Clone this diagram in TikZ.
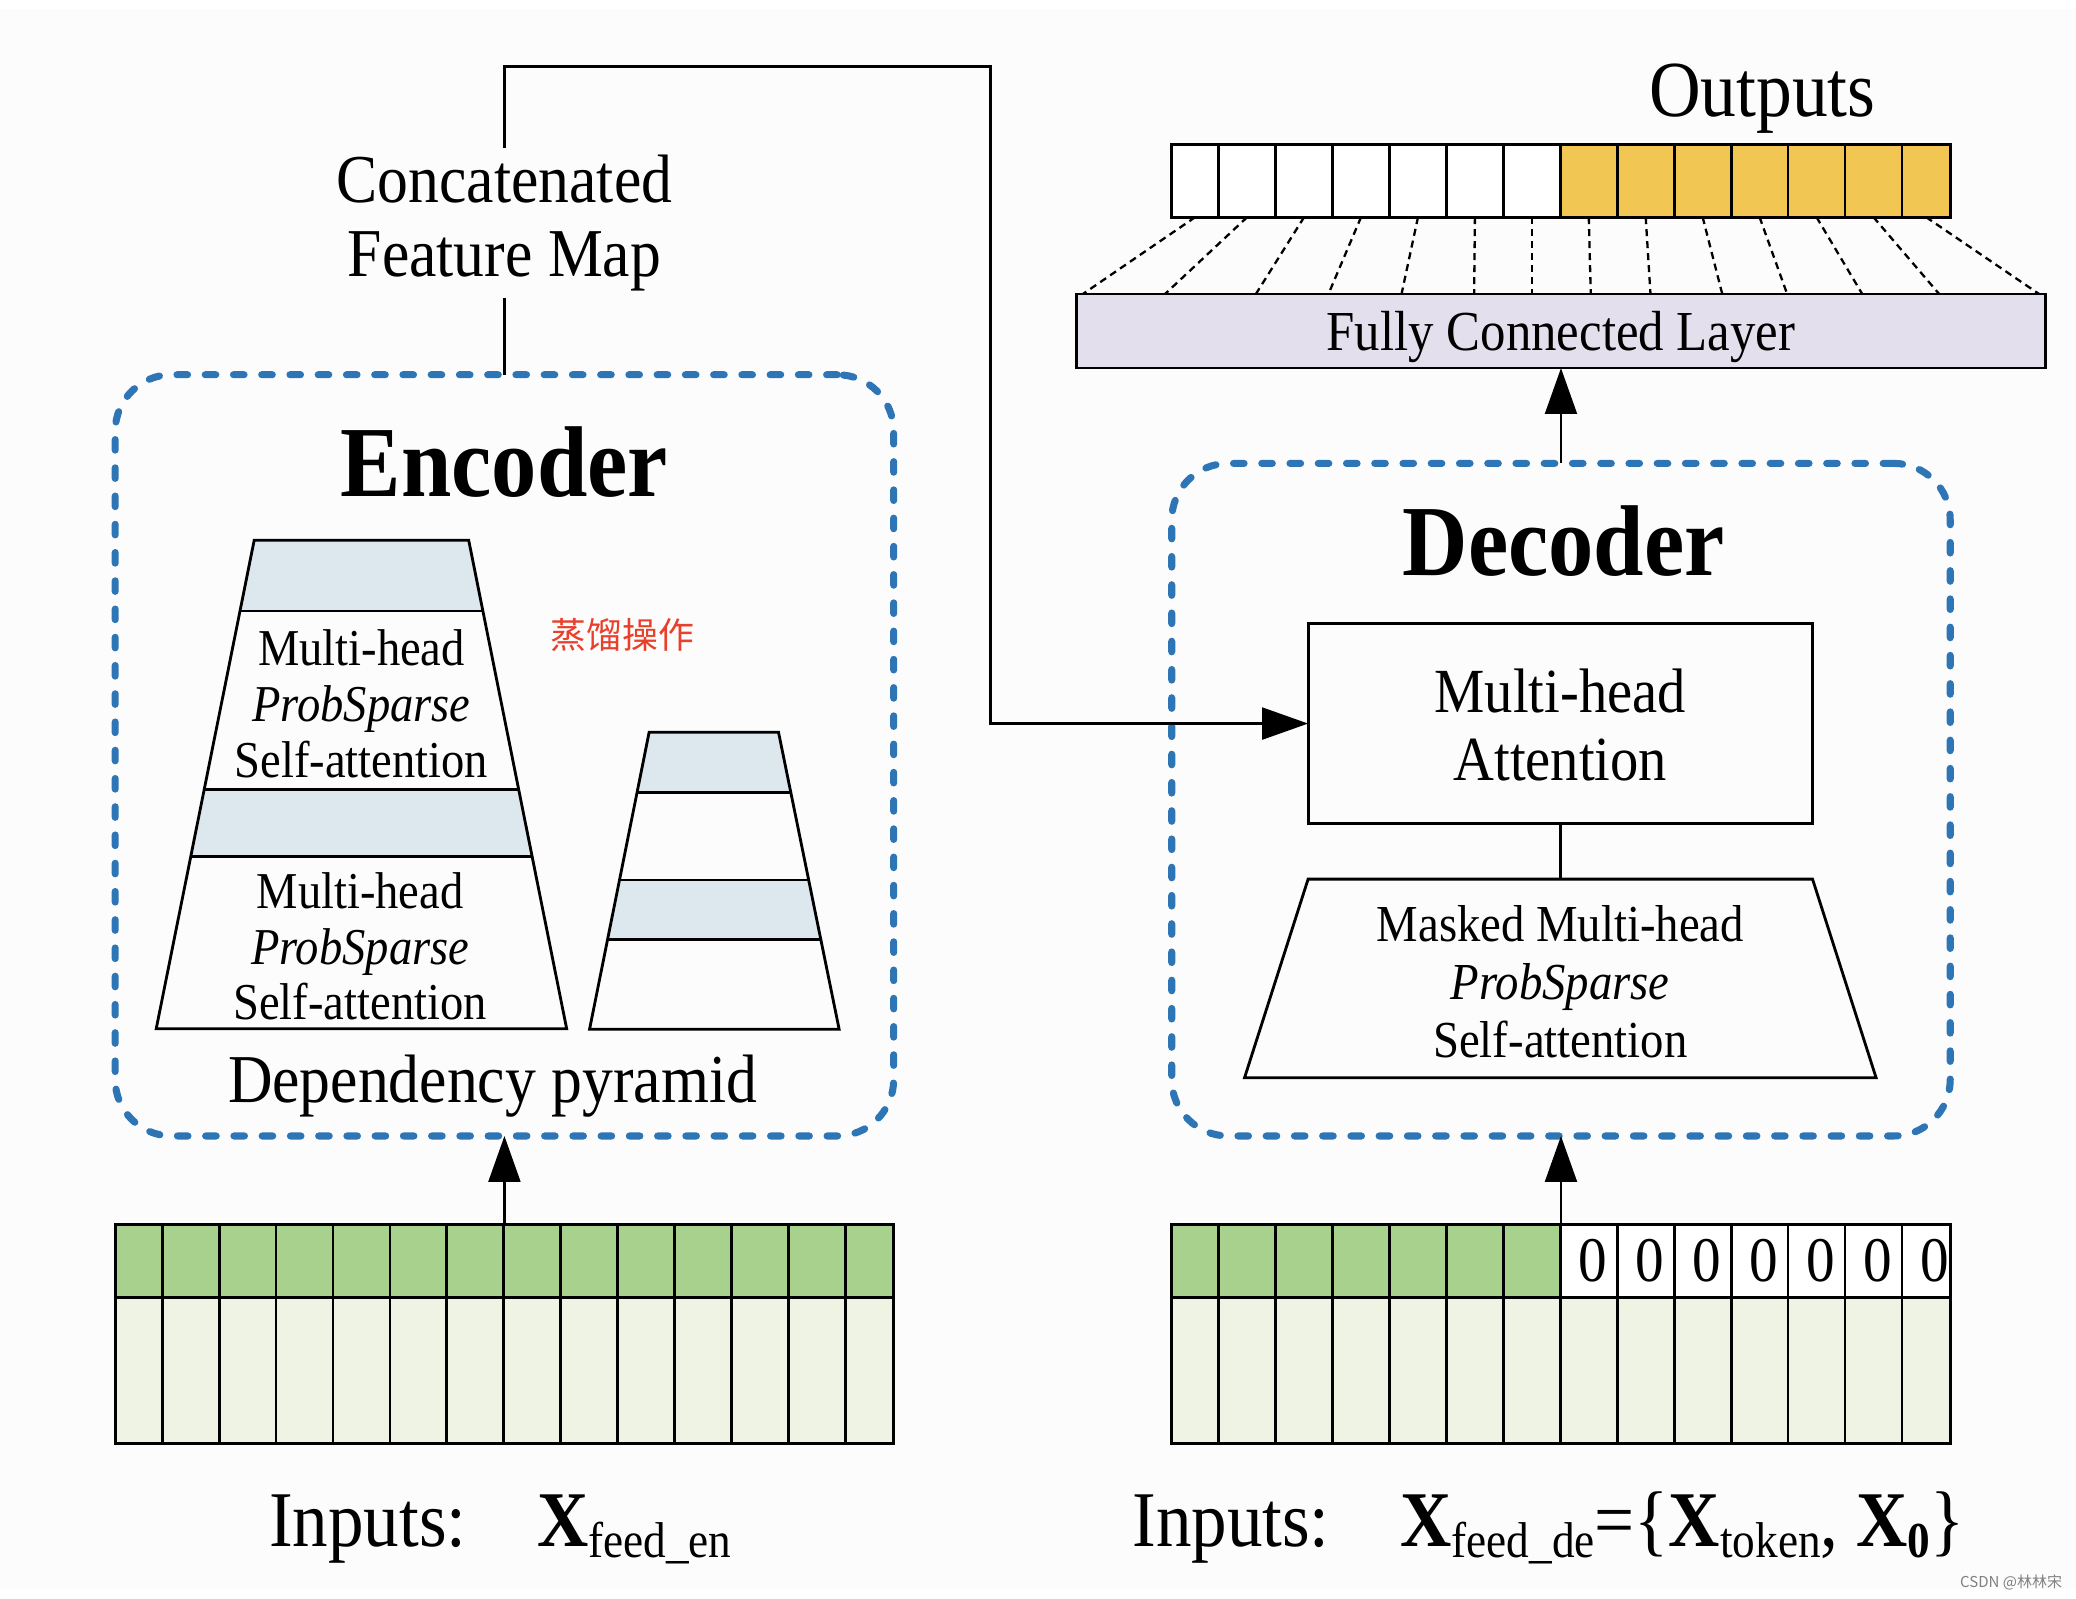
\documentclass[tikz,border=0pt]{standalone}
\usepackage{fontspec}
\setmainfont{Liberation Serif}[FakeStretch=0.9]
\newfontfamily\cjk{Noto Sans CJK SC}
\usetikzlibrary{arrows.meta,fit,calc}

\definecolor{panelgray}{HTML}{FCFCFC}
\definecolor{dashblue}{HTML}{2E75B6}
\definecolor{bandblue}{HTML}{DCE8EE}
\definecolor{tokgreen}{HTML}{A9D18E}
\definecolor{palegreen}{HTML}{EEF3E4}
\definecolor{outyellow}{HTML}{F2C652}
\definecolor{fcpurple}{HTML}{E4DFEC}
\definecolor{distred}{HTML}{E8402A}

% lowered subscript as in the figure
\newcommand{\lowsub}[1]{\raisebox{-6pt}{\fontsize{28.5}{30}\selectfont #1}}

\tikzset{
  dashbox/.style={draw=dashblue, line width=4pt, dash pattern=on 6pt off 10pt, line cap=round, rounded corners=32pt, inner sep=0pt, outer sep=0pt},
  plainbox/.style={draw, line width=1.6pt, inner sep=0pt, outer sep=0pt},
  fcbox/.style={plainbox, fill=fcpurple},
  cellline/.style={line width=1.6pt},
  fanline/.style={line width=1.3pt, dash pattern=on 4pt off 2.8pt},
  bigarrow/.style={line width=1.6pt, -{Triangle[length=26pt,width=18pt]}},
  titletext/.style={font=\fontsize{57}{60}\selectfont\bfseries, inner sep=0pt},
  bigtext/.style={font=\fontsize{38.8}{42}\selectfont, align=center},
  outtext/.style={font=\fontsize{45}{48}\selectfont, inner sep=0pt},
  iotext/.style={font=\fontsize{44.7}{48}\selectfont, inner sep=0pt},
  fctext/.style={font=\fontsize{32}{34}\selectfont, inner sep=0pt},
  layertext/.style={font=\fontsize{29.3}{31.5}\selectfont, align=center},
  attntext/.style={font=\fontsize{35.6}{38.4}\selectfont, align=center, inner sep=0pt},
  masktext/.style={font=\fontsize{29.4}{33}\selectfont, align=center, inner sep=0pt},
  zerotext/.style={font=\fontsize{36}{38}\selectfont, inner sep=0pt},
  disttext/.style={font=\cjk\fontsize{20.3}{22}\selectfont, text=distred},
  marktext/.style={font=\cjk\fontsize{8.5}{9}\selectfont, text=black!50, inner sep=0pt}
}

\begin{document}
\begin{tikzpicture}[x=0.75pt,y=0.75pt,yscale=-1,xscale=1]
\useasboundingbox (0,0) rectangle (1568,1207);
%Shape: faint panel behind the figure
\fill[panelgray] (0,7) rectangle (1568,1200);

%Shape: Encoder frame
\node[dashbox, fit={(87,283) (675,858)}] (enc) {};
% Text Node
\node[titletext, anchor=base] (enctitle) at (381,375) {Encoder};

%Shape: big pyramid
\fill[bandblue] (192,408) -- (354,408) -- (364.7,461.5) -- (181.3,461.5) -- cycle;
\fill[bandblue] (154.2,596.5) -- (391.8,596.5) -- (402,647) -- (144,647) -- cycle;
\draw[cellline] (192,408) -- (354,408) -- (428,777) -- (118,777) -- cycle;
\draw[cellline] (181.3,461.5) -- (364.7,461.5);
\draw[cellline] (154.2,596.5) -- (391.8,596.5);
\draw[cellline] (144,647) -- (402,647);
% Text Node
\node[layertext] (attn1) at (273,531.5) {Multi-head\\\textit{ProbSparse}\\Self-attention};
% Text Node
\node[layertext] (attn2) at (272,715) {Multi-head\\\textit{ProbSparse}\\Self-attention};

%Shape: small pyramid
\fill[bandblue] (490.3,553) -- (588,553) -- (597.3,598.8) -- (481.1,598.8) -- cycle;
\fill[bandblue] (467.9,664.7) -- (610.8,664.7) -- (619.9,709.4) -- (458.9,709.4) -- cycle;
\draw[cellline] (490.3,553) -- (588,553) -- (633.8,777.4) -- (445.3,777.4) -- cycle;
\draw[cellline] (481.1,598.8) -- (597.3,598.8);
\draw[cellline] (467.9,664.7) -- (610.8,664.7);
\draw[cellline] (458.9,709.4) -- (619.9,709.4);

% Text Node
\node[disttext] (distill) at (470,480) {蒸馏操作};
% Text Node
\node[bigtext, anchor=base, inner sep=0pt] (deplabel) at (372,833) {Dependency pyramid};

%Shape: encoder input tokens
\fill[tokgreen] (87,925) rectangle (675,980);
\fill[palegreen] (87,980) rectangle (675,1090);
\foreach \k in {0,...,12} \draw[cellline] (122.5+43*\k,925) -- (122.5+43*\k,1090);
\draw[cellline] (87,980) -- (675,980);
\node[plainbox, fit={(87,925) (675,1090)}] (engrid) {};

%Shape: Decoder frame
\node[dashbox, fit={(885,350) (1473,858)}] (dec) {};
% Text Node
\node[titletext, anchor=base] (dectitle) at (1181,435) {Decoder};
\node[plainbox, fit={(988,471) (1369,622)}] (mha) {};
\node[attntext] (mhatext) at ([yshift=1]mha.center) {Multi-head\\Attention};
\draw[cellline] (988,664) -- (1369,664) -- (1417,814) -- (940,814) -- cycle;
\node[fit={(940,664) (1417,814)}, inner sep=0pt, outer sep=0pt] (mm) {};
\node[masktext] (mmtext) at ([yshift=2]mm.center) {Masked Multi-head\\\textit{ProbSparse}\\Self-attention};
\draw[cellline] (mha.south) -- (mm.north);

%Shape: decoder input tokens
\fill[tokgreen] (885,925) rectangle (1178.5,980);
\fill[white] (1178.5,925) rectangle (1473,980);
\fill[palegreen] (885,980) rectangle (1473,1090);
\foreach \k in {0,...,12} \draw[cellline] (920.5+43*\k,925) -- (920.5+43*\k,1090);
\draw[cellline] (885,980) -- (1473,980);
\node[plainbox, fit={(885,925) (1473,1090)}] (degrid) {};
\foreach \k in {0,...,6} \node[zerotext] (zero\k) at (1203+43*\k,952.5) {0};

%Shape: fully connected layer and outputs
\node[fcbox, fit={(813,222) (1545,278)}] (fc) {};
\node[fctext, anchor=base] (fclabel) at ([yshift=11]fc.center) {Fully Connected Layer};
\fill[white] (885,109) rectangle (1178.5,164);
\fill[outyellow] (1178.5,109) rectangle (1473,164);
\foreach \k in {0,...,12} \draw[cellline] (920.5+43*\k,109) -- (920.5+43*\k,164);
\node[plainbox, fit={(885,109) (1473,164)}] (outgrid) {};
% Text Node
\node[outtext, anchor=base] (outlabel) at (1331,88) {Outputs};

%Dashed Lines: outputs to layer
\foreach \tx/\bx in {17.75/5, 57/67, 100/135.6, 143/190.4, 186/245.6, 229/300.4, 272/344, 315/388.5, 358/433.6, 401/487.8, 444/536.8, 487/593.5, 530/651.6, 569.75/727}
  \draw[fanline] ($(outgrid.south west)+(\tx,0)$) -- ($(fc.north west)+(\bx,0)$);

%Straight Lines with arrows
\draw[bigarrow] (engrid.north) -- (enc.south);
\draw[bigarrow] (degrid.north) -- (dec.south);
\draw[bigarrow] (dec.north) -- (fc.south);

% Text Node
\node[bigtext, inner sep=3.6pt] (cfm) at (381,168.6) {Concatenated\\Feature Map};
\coordinate (bend) at (748,50);
\draw[cellline] (enc.north) -- (cfm.south);
\draw[bigarrow] (cfm.north) |- (bend) |- (mha.west);

% Text Node
\node[iotext, anchor=base west] (eninput) at (203,1168) {Inputs:\hspace{40pt}\textbf{X}\lowsub{feed\_en}};
% Text Node
\node[iotext, anchor=base west] (deinput) at (855,1168) {Inputs:\hspace{40pt}\textbf{X}\lowsub{feed\_de}=\{\textbf{X}\lowsub{token}, \textbf{X}\lowsub{\textbf{0}}\}};
% Text Node
\node[marktext] (csdn) at (1519,1195) {CSDN @林林宋};

\end{tikzpicture}
\end{document}
